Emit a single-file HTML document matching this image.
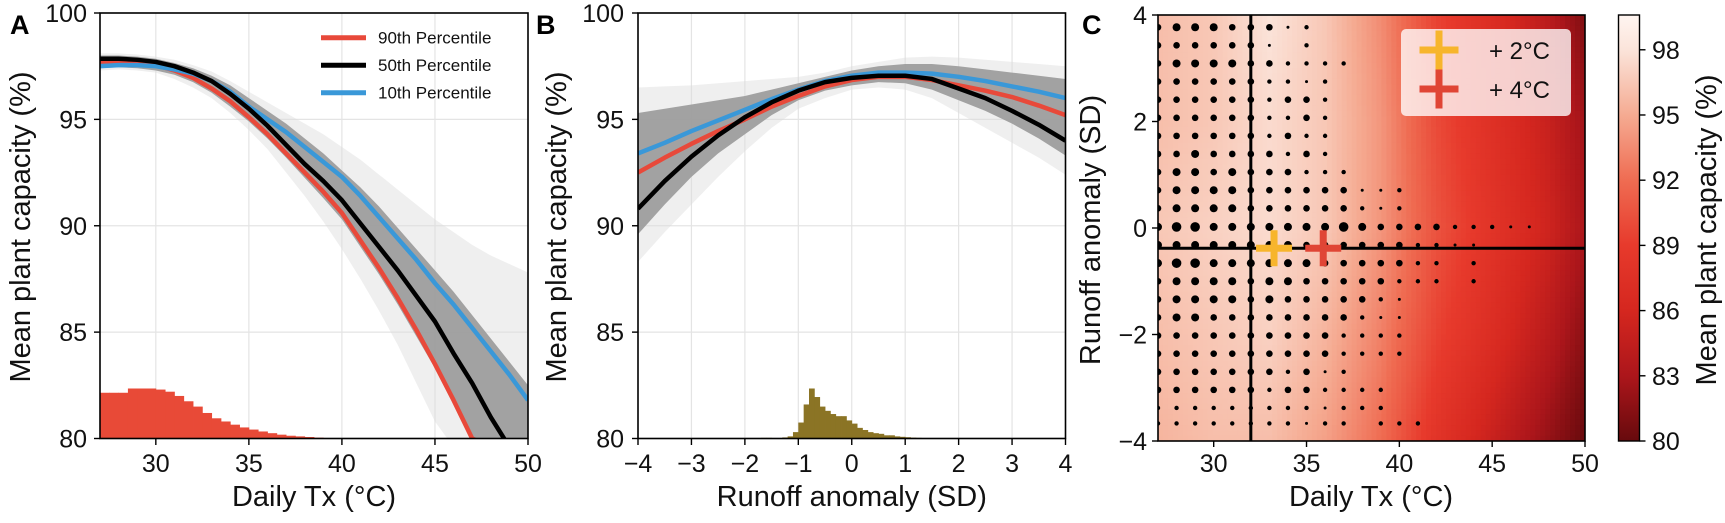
<!DOCTYPE html>
<html><head><meta charset="utf-8"><style>
html,body{margin:0;padding:0;background:#fff;width:1725px;height:523px;overflow:hidden;}
svg{display:block;font-family:"Liberation Sans",Arial,sans-serif;}
</style></head><body>
<svg id="fig" width="1725" height="523" viewBox="0 0 1725 523" xmlns="http://www.w3.org/2000/svg">
<defs>
<clipPath id="clipA"><rect x="100" y="13" width="428" height="425.5"/></clipPath>
<clipPath id="clipB"><rect x="638" y="13" width="427.5" height="425.5"/></clipPath>
<clipPath id="clipC"><rect x="1158" y="15" width="427" height="426"/></clipPath>
<linearGradient id="cbarGrad" x1="0" y1="1" x2="0" y2="0"></linearGradient>
</defs>
<g id="panelA"></g>
<g id="panelB"></g>
<g id="panelC"></g>
</svg>
<script>
// ---------- Panel A data ----------
const aTx = [27,28,29,30,31,32,33,34,35,36,37,38,39,40,41,42,43,44,45,46,47,48,49,50];
const aP90 = [97.7,97.75,97.7,97.55,97.3,96.95,96.45,95.85,95.1,94.3,93.4,92.5,91.6,90.6,89.3,88.0,86.6,85.1,83.5,81.8,80.0,78.0,76.0,74.0];
const aP50 = [97.85,97.85,97.8,97.7,97.5,97.2,96.8,96.2,95.5,94.7,93.8,92.9,92.1,91.2,90.1,89.0,87.9,86.7,85.5,84.0,82.6,81.0,79.5,78.0];
const aP10 = [97.5,97.55,97.55,97.5,97.35,97.15,96.8,96.3,95.6,95.0,94.4,93.7,93.0,92.3,91.4,90.4,89.4,88.4,87.3,86.3,85.2,84.1,83.0,81.8];
const aBandLo = [97.4,97.45,97.4,97.3,97.1,96.75,96.25,95.6,94.9,94.1,93.2,92.25,91.3,90.3,89.0,87.7,86.3,84.8,83.3,81.6,79.9,78.0,76.0,74.0];
const aBandHi = [98.0,98.0,97.95,97.85,97.65,97.4,97.05,96.6,96.0,95.4,94.8,94.1,93.4,92.6,91.8,90.9,89.9,88.9,87.9,86.9,85.8,84.7,83.6,82.5];
const aOuterLo = [97.3,97.35,97.3,97.2,96.9,96.5,96.0,95.3,94.5,93.6,92.5,91.4,90.2,88.9,87.5,86.0,84.4,82.6,80.8,79.0,77.0,75.0,73.0,71.0];
const aOuterHi = [98.1,98.1,98.05,97.95,97.8,97.55,97.25,96.8,96.3,95.8,95.3,94.8,94.3,93.7,93.1,92.4,91.7,91.0,90.3,89.7,89.1,88.6,88.2,87.8];
const aHistStart = 27, aHistWidth = 0.5;
const aHist = [82.15,82.15,82.15,82.35,82.35,82.35,82.3,82.2,82.0,81.75,81.5,81.2,80.95,80.8,80.65,80.52,80.42,80.33,80.25,80.18,80.13,80.1,80.07,80.04,80.02,80.01];
const aXTicks = [30,35,40,45,50];
const yTicks = [80,85,90,95,100];
const legendLabels = ["90th Percentile","50th Percentile","10th Percentile"];

// ---------- Panel B data ----------
const bR = [-4,-3.5,-3,-2.5,-2,-1.5,-1,-0.5,0,0.5,1,1.5,2,2.5,3,3.5,4];
const bP90 = [92.5,93.2,93.85,94.45,95.0,95.6,96.1,96.55,96.85,97.0,97.0,96.85,96.6,96.35,96.05,95.65,95.2];
const bP50 = [90.8,92.1,93.25,94.25,95.1,95.8,96.35,96.75,96.95,97.05,97.05,96.9,96.45,96.0,95.4,94.75,94.0];
const bP10 = [93.4,93.9,94.45,94.95,95.45,95.95,96.4,96.8,97.05,97.2,97.2,97.15,97.0,96.8,96.55,96.3,96.0];
const bBandLo = [89.6,91.0,92.3,93.4,94.3,95.2,95.9,96.35,96.6,96.75,96.7,96.4,95.9,95.4,94.8,94.1,93.3];
const bBandHi = [95.3,95.5,95.7,95.9,96.1,96.4,96.7,97.0,97.3,97.5,97.6,97.6,97.5,97.35,97.2,97.05,96.9];
const bOuterLo = [88.3,89.7,91.0,92.3,93.5,94.6,95.5,96.0,96.4,96.5,96.4,96.0,95.3,94.6,93.9,93.2,92.4];
const bOuterHi = [96.5,96.55,96.6,96.7,96.8,96.9,97.0,97.2,97.5,97.7,97.9,97.95,97.9,97.8,97.7,97.6,97.5];
const bHistStart = -2.0, bHistWidth = 0.1;
const bHist = [80.0,80.0,80.02,80.03,80.03,80.02,80.02,80.05,80.1,80.3,80.75,81.6,82.35,81.95,81.5,81.3,81.15,81.05,81.05,80.85,80.7,80.5,80.4,80.3,80.25,80.22,80.15,80.15,80.1,80.08,80.06,80.04,80.03,80.02,80.01,80.01];
const bXTicks = [-4,-3,-2,-1,0,1,2,3,4];

// ---------- Panel C data ----------
const cGridTx = [27,30,33,36,39,42,45,48,50];
const cGridRunoff = [4,2,0,-2,-4];
const cCap = [
  [96.0,96.5,98.0,96.5,93.5,89.5,87.0,84.0,81.0],
  [96.0,96.5,97.5,96.5,94.0,90.0,87.5,85.0,82.5],
  [96.5,97.0,97.5,96.5,94.0,90.5,88.0,85.5,83.0],
  [96.0,96.5,97.0,95.5,93.0,89.5,87.0,84.0,81.5],
  [95.5,96.0,96.0,94.5,92.0,88.0,85.0,82.0,80.0]
];
const dotTx = [27,28,29,30,31,32,33,34,35,36,37,38,39,40,41,42,43,44,45,46,47];
const dotRunoff = [3.77,3.43,3.09,2.75,2.41,2.07,1.73,1.39,1.05,0.71,0.37,0.02,-0.32,-0.66,-1.0,-1.34,-1.68,-2.02,-2.36,-2.7,-3.04,-3.38,-3.67];
const dotSize = [
  [3,4,4,4,3,3,3,1,2,0,0,0,0,0,0,0,0,0,0,0,0],
  [3,3,3,3,3,3,1,0,2,0,0,0,0,0,0,0,0,0,0,0,0],
  [3,4,4,4,4,3,3,2,2,2,2,0,0,0,0,0,0,0,0,0,0],
  [3,3,3,3,3,3,2,2,1,2,0,0,0,0,0,0,0,0,0,0,0],
  [3,3,3,3,3,3,2,3,3,2,0,0,0,0,0,0,0,0,0,0,0],
  [3,3,3,3,3,3,2,2,3,2,0,0,0,0,0,0,0,0,0,0,0],
  [3,3,3,3,3,3,2,3,2,2,0,0,0,0,0,0,0,0,0,0,0],
  [3,3,4,3,3,3,3,2,3,2,0,0,0,0,0,0,0,0,0,0,0],
  [3,4,4,3,4,3,3,3,2,2,2,0,0,0,0,0,0,0,0,0,0],
  [3,4,4,4,4,3,3,3,3,3,3,1,1,2,0,0,0,0,0,0,0],
  [3,4,4,4,4,3,3,3,3,3,3,2,1,2,0,0,0,0,0,0,0],
  [4,5,5,4,4,4,4,4,4,4,5,4,3,3,3,3,2,2,2,1,1],
  [4,4,4,4,4,4,4,4,3,3,3,3,3,3,2,2,1,1,0,0,0],
  [4,5,5,4,4,4,4,4,4,3,3,3,3,3,2,2,0,2,0,0,0],
  [3,4,4,4,4,3,4,4,3,3,3,3,3,2,2,2,0,2,0,0,0],
  [3,4,4,4,4,3,4,3,3,3,3,3,2,1,0,0,0,0,0,0,0],
  [3,4,4,3,3,3,3,3,3,3,3,2,1,1,0,0,0,0,0,0,0],
  [3,3,3,3,3,3,3,3,3,3,2,2,2,2,0,0,0,0,0,0,0],
  [3,3,3,3,3,3,3,3,3,3,2,2,2,2,0,0,0,0,0,0,0],
  [3,3,3,3,3,3,3,2,3,1,2,0,0,0,0,0,0,0,0,0,0],
  [3,3,3,3,3,3,2,3,3,2,2,2,2,0,0,0,0,0,0,0,0],
  [2,2,2,2,2,2,2,2,2,1,2,2,2,0,0,0,0,0,0,0,0],
  [2,2,2,2,2,2,2,2,1,2,2,0,2,2,2,0,0,0,0,0,0]
];
const thresholdTx = 32;
const thresholdRunoff = -0.38;
const warmingLabels = ["+ 2°C","+ 4°C"];
const warmingTx = [33.25,35.9];
const warmingRunoff = [-0.38,-0.38];
const cXTicks = [30,35,40,45,50];
const cYTicks = [-4,-2,0,2,4];
const cbarTicks = [80,83,86,89,92,95,98];
const cmapVals = [80,83,86,89,92,95,98,99.6];
const cmapCols = ["#670a0d","#ac161b","#d5271f","#e73a2c","#ef6c52","#f5ab92","#fbe4da","#fff5f1"];

// ---------- helpers ----------
const NS = "http://www.w3.org/2000/svg";
function mk(parent, tag, attrs, text) {
  const e = document.createElementNS(NS, tag);
  for (const k in attrs) e.setAttribute(k, attrs[k]);
  if (text !== undefined) e.textContent = text;
  parent.appendChild(e);
  return e;
}
const fmt = v => (v < 0 ? "\u2212" + Math.abs(v) : String(v));

const axA = {x: v => 100 + (v - 27) / 23 * 428, y: v => 438.5 - (Math.max(v, 79.6) - 80) / 20 * 425.5};
const axB = {x: v => 638 + (v + 4) / 8 * 427.5, y: axA.y};
const axC = {x: v => 1158 + (v - 27) / 23 * 427, y: v => 441 - (v + 4) / 8 * 426};
const cbY = v => 441 - (v - 80) / (99.6 - 80) * 426;

function linePath(xs, ys, ax) {
  return xs.map((x, i) => (i ? "L" : "M") + ax.x(x).toFixed(2) + "," + ax.y(ys[i]).toFixed(2)).join("");
}
function bandPath(xs, lo, hi, ax) {
  let d = linePath(xs, hi, ax);
  for (let i = xs.length - 1; i >= 0; i--) d += "L" + ax.x(xs[i]).toFixed(2) + "," + ax.y(lo[i]).toFixed(2);
  return d + "Z";
}

function curvePanel(g, ax, xs, p90, p50, p10, bLo, bHi, oLo, oHi, hist, hStart, hW, hColor, xTicks, clip, x0, x1, xlabel, letter, letterX, ylabX, ytickX, legend) {
  const grid = mk(g, "g", {});
  
  
  xTicks.forEach(t => mk(grid, "line", {x1: ax.x(t), x2: ax.x(t), y1: 13, y2: 438.5, stroke: "#e4e4e4", "stroke-width": 1.2}));
  yTicks.forEach(t => mk(grid, "line", {x1: x0, x2: x1, y1: ax.y(t), y2: ax.y(t), stroke: "#e4e4e4", "stroke-width": 1.2}));
  const body = mk(g, "g", {"clip-path": "url(#" + clip + ")"});
  const hg = mk(body, "g", {});
  
  
  hist.forEach((v, i) => {
    const xa = ax.x(hStart + i * hW), xb = ax.x(hStart + (i + 1) * hW);
    const r = mk(hg, "rect", {x: xa, y: ax.y(v), width: xb - xa + 0.4, height: ax.y(80) - ax.y(v), fill: hColor});
    
    
  });
  const o = mk(body, "path", {d: bandPath(xs, oLo, oHi, ax), fill: "#dcdcdc", opacity: 0.45});
  
  
  const b = mk(body, "path", {d: bandPath(xs, bLo, bHi, ax), fill: "#9d9d9d", opacity: 0.95});
  
  
  const series = [[p90, "#e8493a", "line-90th-percentile"], [p10, "#3a98d8", "line-10th-percentile"], [p50, "#000000", "line-50th-percentile"]];
  series.forEach(s => {
    const l = mk(body, "path", {d: linePath(xs, s[0], ax), fill: "none", stroke: s[1], "stroke-width": 4.5, "stroke-linejoin": "round"});
    
    
  });
  const fr = mk(g, "rect", {x: x0, y: 13, width: x1 - x0, height: 425.5, fill: "none", stroke: "#000", "stroke-width": 1.6});
  
  
  const xt = mk(g, "g", {});
  
  
  xTicks.forEach(t => {
    mk(xt, "line", {x1: ax.x(t), x2: ax.x(t), y1: 438.5, y2: 445, stroke: "#000", "stroke-width": 1.4});
    const tl = mk(xt, "text", {x: ax.x(t), y: 472, "text-anchor": "middle", "font-size": 25, fill: "#111"}, fmt(t));
    
    
  });
  const yt = mk(g, "g", {});
  
  
  yTicks.forEach(t => {
    mk(yt, "line", {x1: x0 - 6, x2: x0, y1: ax.y(t), y2: ax.y(t), stroke: "#000", "stroke-width": 1.4});
    const tl = mk(yt, "text", {x: ytickX, y: ax.y(t) + 9, "text-anchor": "end", "font-size": 25, fill: "#111"}, String(t));
    
    
  });
  const xl = mk(g, "text", {x: (x0 + x1) / 2, y: 506, "text-anchor": "middle", "font-size": 29, fill: "#111"}, xlabel);
  
  
  const yl = mk(g, "text", {x: 0, y: 0, "text-anchor": "middle", "font-size": 29, fill: "#111", transform: "translate(" + ylabX + ",227) rotate(-90)"}, "Mean plant capacity (%)");
  
  
  const pl = mk(g, "text", {x: letterX, y: 34, "font-size": 27, "font-weight": "bold", fill: "#000"}, letter);
  
  
  if (legend) {
    const lg = mk(g, "g", {});
    
    
    const cols = ["#e8493a", "#000000", "#3a98d8"];
    legendLabels.forEach((lab, i) => {
      const yy = 37.7 + i * 27.5;
      const e = mk(lg, "g", {});
      
      
      mk(e, "line", {x1: 321, x2: 366, y1: yy, y2: yy, stroke: cols[i], "stroke-width": 5});
      mk(e, "text", {x: 378, y: yy + 6, "font-size": 17, fill: "#111"}, lab);
    });
  }
}

curvePanel(document.getElementById("panelA"), axA, aTx, aP90, aP50, aP10, aBandLo, aBandHi, aOuterLo, aOuterHi,
  aHist, aHistStart, aHistWidth, "#e84a37", aXTicks, "clipA", 100, 528, "Daily Tx (\u00B0C)", "A", 10, 30, 87, true);
curvePanel(document.getElementById("panelB"), axB, bR, bP90, bP50, bP10, bBandLo, bBandHi, bOuterLo, bOuterHi,
  bHist, bHistStart, bHistWidth, "#8b7425", bXTicks, "clipB", 638, 1065.5, "Runoff anomaly (SD)", "B", 536, 566, 624, false);

// ---------- Panel C ----------
function cmap(v) {
  v = Math.max(80, Math.min(99.6, v));
  let i = 0;
  while (i < cmapVals.length - 2 && v > cmapVals[i + 1]) i++;
  const t = (v - cmapVals[i]) / (cmapVals[i + 1] - cmapVals[i]);
  const a = cmapCols[i], b = cmapCols[i + 1];
  const p = (c, k) => parseInt(c.substr(1 + 2 * k, 2), 16);
  let s = "rgb(";
  for (let k = 0; k < 3; k++) s += Math.round(p(a, k) + (p(b, k) - p(a, k)) * t) + (k < 2 ? "," : ")");
  return s;
}
function interp1(nodes, v) {
  for (let i = 0; i < nodes.length - 1; i++) {
    const a = nodes[i], b = nodes[i + 1];
    if ((v >= Math.min(a, b)) && (v <= Math.max(a, b))) return [i, (v - a) / (b - a)];
  }
  return [nodes.length - 2, 1];
}
function capAt(tx, r) {
  const [i, fx] = interp1(cGridTx, tx);
  const [j, fy] = interp1(cGridRunoff, r);
  const v00 = cCap[j][i], v01 = cCap[j][i + 1], v10 = cCap[j + 1][i], v11 = cCap[j + 1][i + 1];
  return (v00 * (1 - fx) + v01 * fx) * (1 - fy) + (v10 * (1 - fx) + v11 * fx) * fy;
}
const gC = document.getElementById("panelC");
const heat = mk(gC, "g", {"clip-path": "url(#clipC)"});


const NX = 86, NY = 80;
for (let j = 0; j < NY; j++) {
  const r0 = 4 - j * 8 / NY, r1 = 4 - (j + 1) * 8 / NY;
  for (let i = 0; i < NX; i++) {
    const t0 = 27 + i * 23 / NX, t1 = 27 + (i + 1) * 23 / NX;
    const v = capAt((t0 + t1) / 2, (r0 + r1) / 2);
    const w = Math.min(axC.x(t1) - axC.x(t0) + 0.6, 1585 - axC.x(t0));
    const h = Math.min(axC.y(r1) - axC.y(r0) + 0.6, 441 - axC.y(r0));
    const c = mk(heat, "rect", {x: axC.x(t0).toFixed(2), y: axC.y(r0).toFixed(2), width: w.toFixed(2), height: h.toFixed(2), fill: cmap(v)});
    
    
  }
}
const radii = [0, 1.5, 2.2, 3.3, 4.0, 4.8];
const dots = mk(gC, "g", {"clip-path": "url(#clipC)"});


dotRunoff.forEach((r, j) => {
  dotTx.forEach((t, i) => {
    const s = dotSize[j][i];
    if (!s) return;
    const d = mk(dots, "circle", {cx: axC.x(t), cy: axC.y(r), r: radii[s], fill: "#000"});
    
    
  });
});
const vl = mk(gC, "line", {x1: axC.x(thresholdTx), x2: axC.x(thresholdTx), y1: 15, y2: 441, stroke: "#000", "stroke-width": 3});


const hl = mk(gC, "line", {x1: 1158, x2: 1585, y1: axC.y(thresholdRunoff), y2: axC.y(thresholdRunoff), stroke: "#000", "stroke-width": 3});


const crossCols = ["#f7b52c", "#e04535"];
function cross(parent, cx, cy, col, h) {
  mk(parent, "rect", {x: cx - h, y: cy - 3.5, width: 2 * h, height: 7, fill: col});
  mk(parent, "rect", {x: cx - 3.5, y: cy - h, width: 7, height: 2 * h, fill: col});
}
warmingTx.forEach((t, k) => {
  const g = mk(gC, "g", {});
  
  
  cross(g, axC.x(t), axC.y(warmingRunoff[k]), crossCols[k], 18);
});
const fC = mk(gC, "rect", {x: 1158, y: 15, width: 427, height: 426, fill: "none", stroke: "#000", "stroke-width": 1.6});


const lgC = mk(gC, "g", {});


mk(lgC, "rect", {x: 1401, y: 29, width: 170, height: 87, rx: 5, fill: "#ffffff", "fill-opacity": 0.78});
warmingLabels.forEach((lab, k) => {
  const e = mk(lgC, "g", {});
  
  
  const yy = 50 + k * 39;
  cross(e, 1439, yy, crossCols[k], 19.5);
  mk(e, "text", {x: 1489, y: yy + 9, "font-size": 24, fill: "#111"}, lab);
});
const xtC = mk(gC, "g", {});


cXTicks.forEach(t => {
  mk(xtC, "line", {x1: axC.x(t), x2: axC.x(t), y1: 441, y2: 447, stroke: "#000", "stroke-width": 1.4});
  const tl = mk(xtC, "text", {x: axC.x(t), y: 472, "text-anchor": "middle", "font-size": 25, fill: "#111"}, fmt(t));
  
  
});
const ytC = mk(gC, "g", {});


cYTicks.forEach(t => {
  mk(ytC, "line", {x1: 1152, x2: 1158, y1: axC.y(t), y2: axC.y(t), stroke: "#000", "stroke-width": 1.4});
  const tl = mk(ytC, "text", {x: 1147, y: axC.y(t) + 9, "text-anchor": "end", "font-size": 25, fill: "#111"}, fmt(t));
  
  
});
const xlC = mk(gC, "text", {x: 1371, y: 506, "text-anchor": "middle", "font-size": 29, fill: "#111"}, "Daily Tx (\u00B0C)");


const ylC = mk(gC, "text", {x: 0, y: 0, "text-anchor": "middle", "font-size": 29, fill: "#111", transform: "translate(1100,230) rotate(-90)"}, "Runoff anomaly (SD)");


const plC = mk(gC, "text", {x: 1082, y: 34, "font-size": 27, "font-weight": "bold", fill: "#000"}, "C");


const grad = document.getElementById("cbarGrad");
cmapVals.forEach((v, i) => {
  mk(grad, "stop", {offset: ((v - 80) / 19.6).toFixed(4), "stop-color": cmapCols[i]});
});
const cb = mk(gC, "g", {});


mk(cb, "rect", {x: 1618.5, y: 15, width: 21, height: 426, fill: "url(#cbarGrad)", stroke: "#000", "stroke-width": 1.4});
cbarTicks.forEach(t => {
  mk(cb, "line", {x1: 1639.5, x2: 1645.5, y1: cbY(t), y2: cbY(t), stroke: "#000", "stroke-width": 1.4});
  const tl = mk(cb, "text", {x: 1652, y: cbY(t) + 9, "font-size": 25, fill: "#111"}, String(t));
  
  
});
const cbt = mk(cb, "text", {x: 0, y: 0, "text-anchor": "middle", "font-size": 29, fill: "#111", transform: "translate(1716,230) rotate(-90)"}, "Mean plant capacity (%)");


</script>
</body></html>
